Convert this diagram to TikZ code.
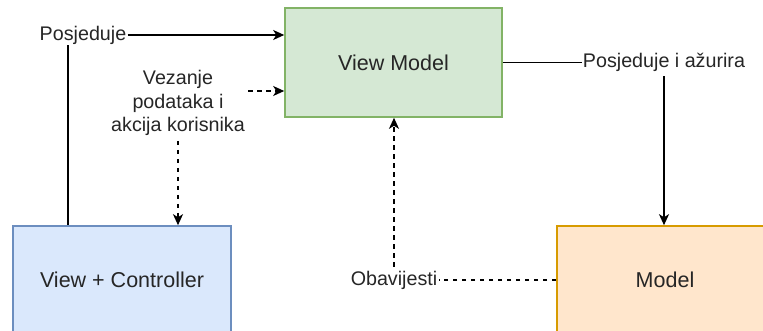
\documentclass[tikz,border=0pt]{standalone}
\usepackage{fontspec}
\setmainfont{Liberation Sans}
\usepackage{xcolor}
\usetikzlibrary{positioning,calc,arrows.meta}

\definecolor{vmfill}{HTML}{D5E8D4}
\definecolor{vmline}{HTML}{82B366}
\definecolor{vcfill}{HTML}{DAE8FC}
\definecolor{vcline}{HTML}{6C8EBF}
\definecolor{mdfill}{HTML}{FFE6CC}
\definecolor{mdline}{HTML}{D79B00}

\begin{document}
\begin{tikzpicture}[x=1pt, y=-1pt, line width=1.6pt,
    box/.style={draw, rectangle, line width=1.6pt, text=black!85, inner sep=0pt,
        font=\fontsize{21.5}{25}\selectfont},
    lbl/.style={fill=white, inner sep=0.5pt, text=black!85, align=center,
        font=\fontsize{19.7}{23.5}\selectfont},
    tip/.style={-{Stealth[length=11pt, width=10pt, inset=3pt]}},
    dsh/.style={dash pattern=on 4.5pt off 4.5pt}]
    \useasboundingbox (0,0) rectangle (763,331);
    \clip (0,0) rectangle (763,331);

    % boxes
    \node [box, fill=vmfill, draw=vmline, minimum width=217pt, minimum height=109pt] (vm) at (393.5,62.5) {View Model};
    \node [box, fill=vcfill, draw=vcline, minimum width=218pt, minimum height=108pt] (vc) at (122,280) {View + Controller};
    \node [box, fill=mdfill, draw=mdline, minimum width=216pt, minimum height=108pt] (md) at (665,280) {Model};

    % labels
    \node [lbl] (posj) at (83,35) {Posjeduje};
    \node [lbl] (vez) at (178,103) {Vezanje\\podataka i\\akcija korisnika};
    \node [lbl] (posjaz) at (664,62.5) {Posjeduje i ažurira};
    \node [lbl] (obav) at (394,280) {Obavijesti};

    % connectors
    \draw [tip] (posj.east) -- (posj.east -| vm.west);
    \draw ([xshift=-15pt]posj.south) -- ([xshift=-15pt]posj.south |- vc.north);
    \draw [tip, dsh] ([xshift=2pt, yshift=12pt]vez.east) -- ([yshift=12pt]vez.east -| vm.west);
    \draw [tip, dsh] ([yshift=-4pt]vez.south) -- (vez.south |- vc.north);
    \draw (vm.east) -- (posjaz.west);
    \draw [tip] ([yshift=-3pt]posjaz.south) -- (posjaz.south |- md.north);
    \draw [dsh] (md.west) -- (obav.east);
    \draw [tip, dsh] ([yshift=3pt]obav.north) -- (obav.north |- vm.south);
\end{tikzpicture}
\end{document}
